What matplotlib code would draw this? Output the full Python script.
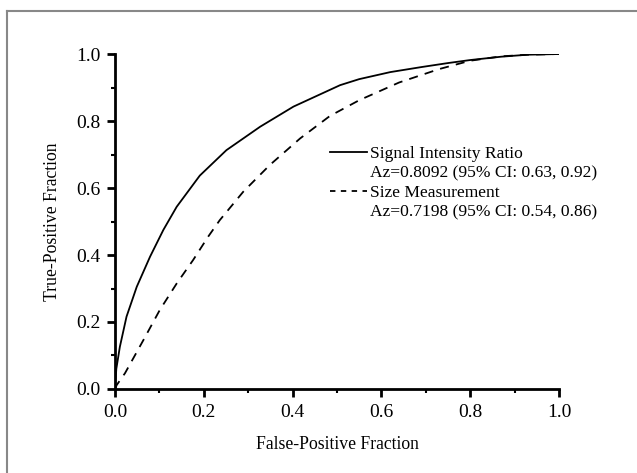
import matplotlib
matplotlib.use("Agg")
import matplotlib.pyplot as plt
from matplotlib.lines import Line2D
from matplotlib.ticker import MultipleLocator, FormatStrFormatter

plt.rcParams['font.family'] = ['Liberation Serif', 'DejaVu Serif']

# values
sir_fpf = [0.0, 0.003, 0.011, 0.026, 0.049, 0.079, 0.109, 0.139, 0.191, 0.251, 0.327,
           0.402, 0.507, 0.55, 0.62, 0.69, 0.75, 0.8, 0.87, 0.93, 1.0]
sir_tpf = [0.0, 0.06, 0.126, 0.216, 0.305, 0.395, 0.475, 0.544, 0.637, 0.713, 0.783,
           0.843, 0.907, 0.925, 0.946, 0.961, 0.973, 0.982, 0.992, 0.998, 1.0]

size_fpf = [0.0, 0.004, 0.0225, 0.064, 0.101, 0.139, 0.176, 0.21, 0.236, 0.289, 0.349,
            0.417, 0.484, 0.55, 0.64, 0.73, 0.8, 0.87, 0.93, 1.0]
size_tpf = [0.0, 0.012, 0.047, 0.146, 0.236, 0.315, 0.385, 0.455, 0.504, 0.589, 0.669,
            0.748, 0.815, 0.862, 0.915, 0.955, 0.98, 0.993, 0.998, 1.0]

labels = ["Signal Intensity Ratio", "Az=0.8092 (95% CI: 0.63, 0.92)",
          "Size Measurement", "Az=0.7198 (95% CI: 0.54, 0.86)"]

fig = plt.figure(figsize=(6.37, 4.73), dpi=100)
ax = fig.add_axes([0.1805, 0.1776, 0.697, 0.7082])

ax.plot(sir_fpf, sir_tpf, color='black', lw=1.3)
ax.plot(size_fpf, size_tpf, color='black', lw=1.3, ls=(0, (5, 4)))

ax.set_xlim(0, 1)
ax.set_ylim(0, 1)
ax.xaxis.set_major_locator(MultipleLocator(0.2))
ax.xaxis.set_minor_locator(MultipleLocator(0.1))
ax.yaxis.set_major_locator(MultipleLocator(0.2))
ax.yaxis.set_minor_locator(MultipleLocator(0.1))
ax.xaxis.set_major_formatter(FormatStrFormatter('%.1f'))
ax.yaxis.set_major_formatter(FormatStrFormatter('%.1f'))

for s in ['top', 'right']:
    ax.spines[s].set_visible(False)
for s in ['left', 'bottom']:
    ax.spines[s].set_linewidth(2)
ax.tick_params(which='major', direction='out', length=6, width=2, labelsize=14, pad=4.5)
ax.tick_params(which='minor', direction='out', length=3, width=1.5)

ax.set_xlabel("False-Positive Fraction", fontsize=12.7, labelpad=11)
ax.set_ylabel("True-Positive Fraction", fontsize=12.7, labelpad=11)

blank = Line2D([], [], color='none')
handles = [Line2D([], [], color='black', lw=1.3), blank,
           Line2D([], [], color='black', lw=1.3, ls=(0, (3, 3))), blank]
ax.legend(handles, labels, loc='upper left', bbox_to_anchor=(0.484, 0.725),
          frameon=False, fontsize=12.6, handlelength=2.1, handletextpad=0.2,
          labelspacing=0.17, borderpad=0, borderaxespad=0)

# thin gray frame on top and left of the figure
fig.add_artist(Line2D([7 / 637, 1], [1 - 11 / 473, 1 - 11 / 473], color='#888888', lw=1.5,
                      transform=fig.transFigure))
fig.add_artist(Line2D([7 / 637, 7 / 637], [0, 1 - 11 / 473], color='#888888', lw=1.5,
                      transform=fig.transFigure))

fig.savefig("out.png", dpi=100)
